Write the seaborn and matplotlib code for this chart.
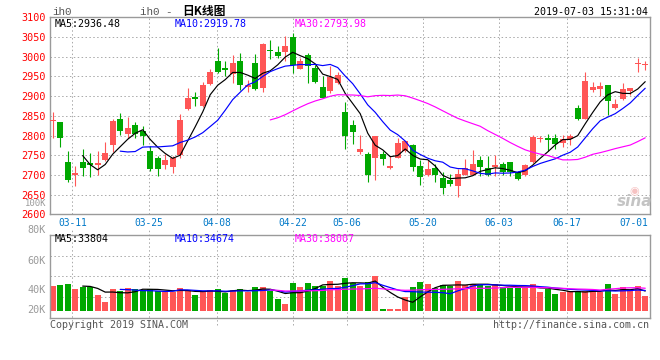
import matplotlib
matplotlib.use('Agg')
import matplotlib.pyplot as plt
import seaborn as sns
import pandas as pd
import numpy as np

FIG_W, FIG_H = 660, 360
RED = '#ff5656'
GREEN = '#00a800'
GRID = '#a8a8a8'
FRAME = '#9a9a9a'

# trading days shown (IH0 daily, 2019-03-06 .. 2019-07-02)
HOLIDAYS = ['2019-04-05', '2019-05-01', '2019-05-02', '2019-05-03', '2019-06-07']
DATES = [d for d in pd.bdate_range('2019-03-06', '2019-07-02')
         if d.strftime('%Y-%m-%d') not in HOLIDAYS]

OPEN = [2837, 2834, 2734, 2699, 2734, 2729, 2725, 2738, 2777, 2841,
        2805, 2827, 2812, 2760, 2743, 2724, 2719, 2750, 2866, 2898,
        2876, 2931, 2990, 2971, 2956, 2988, 2924, 2984, 2920, 3018,
        3013, 3011, 3050, 2969, 3005, 2971, 2922, 2913, 2934, 2859,
        2826, 2758, 2754, 2742, 2752, 2719, 2743, 2760, 2775, 2722,
        2701, 2717, 2691, 2688, 2673, 2701, 2701, 2737, 2717, 2719,
        2728, 2732, 2707, 2701, 2732, 2790, 2793, 2793, 2781, 2790,
        2869, 2843, 2915, 2917, 2928, 2869, 2892, 2913, 2981, 2979]
HIGH = [2860, 2834, 2760, 2722, 2766, 2755, 2760, 2783, 2841, 2856,
        2847, 2834, 2823, 2773, 2749, 2752, 2748, 2854, 2921, 2911,
        2937, 2969, 3022, 2988, 3005, 3009, 2941, 3007, 3036, 3043,
        3026, 3053, 3060, 2996, 3009, 2979, 2950, 2977, 2962, 2884,
        2840, 2802, 2758, 2800, 2760, 2747, 2794, 2785, 2779, 2739,
        2737, 2728, 2708, 2702, 2714, 2741, 2762, 2749, 2747, 2751,
        2732, 2734, 2711, 2728, 2802, 2800, 2805, 2805, 2802, 2805,
        2877, 2962, 2937, 2937, 2928, 2892, 2932, 2920, 2996, 2988]
LOW = [2794, 2772, 2683, 2673, 2698, 2694, 2700, 2736, 2757, 2802,
       2794, 2794, 2775, 2711, 2697, 2714, 2706, 2743, 2864, 2875,
       2873, 2928, 2958, 2950, 2932, 2915, 2911, 2915, 2911, 2994,
       2996, 2988, 2958, 2969, 2934, 2934, 2894, 2909, 2931, 2765,
       2779, 2754, 2681, 2688, 2726, 2715, 2743, 2758, 2709, 2675,
       2696, 2683, 2651, 2671, 2643, 2700, 2700, 2698, 2698, 2696,
       2701, 2698, 2687, 2696, 2730, 2783, 2760, 2766, 2772, 2777,
       2840, 2841, 2911, 2900, 2853, 2868, 2890, 2903, 2960, 2967]
CLOSE = [2840, 2794, 2688, 2706, 2717, 2725, 2729, 2755, 2837, 2812,
         2819, 2805, 2800, 2714, 2714, 2739, 2743, 2840, 2896, 2893,
         2927, 2962, 2960, 2967, 2984, 2927, 2928, 2918, 3033, 3015,
         3003, 3026, 2979, 2990, 2977, 2937, 2896, 2948, 2954, 2799,
         2809, 2767, 2701, 2800, 2741, 2722, 2781, 2785, 2719, 2694,
         2714, 2701, 2666, 2677, 2702, 2717, 2728, 2721, 2700, 2724,
         2707, 2707, 2690, 2724, 2796, 2794, 2788, 2778, 2792, 2799,
         2841, 2939, 2922, 2926, 2888, 2881, 2918, 2920, 2983, 2981]
# volume, thousand lots
VOLUME = [42.9, 44.6, 46.3, 37.2, 40.0, 40.0, 27.4, 14.9, 37.7, 34.3,
          38.9, 37.2, 36.0, 37.2, 33.2, 33.2, 31.4, 38.9, 36.0, 26.3,
          31.4, 36.0, 37.2, 30.3, 36.0, 37.2, 31.4, 40.6, 40.6, 34.3,
          20.6, 11.4, 47.5, 40.6, 47.5, 42.9, 42.9, 51.5, 41.7, 56.0,
          47.5, 41.7, 49.2, 60.0, 2.9, 2.9, 2.9, 22.9, 40.6, 49.2,
          45.7, 38.9, 43.4, 41.7, 51.5, 44.6, 45.7, 43.4, 41.7, 45.7,
          40.0, 38.9, 38.9, 40.0, 45.7, 32.0, 37.2, 28.6, 32.0, 33.2,
          33.2, 33.2, 34.3, 32.0, 45.7, 28.6, 40.0, 33.2, 41.7, 25.2]

TICK_LABELS = ['03-11', '03-25', '04-08', '04-22', '05-06', '05-20', '06-03', '06-17', '07-01']
TICK_POS = [2.61, 12.8, 21.87, 32.04, 39.24, 49.33, 59.51, 68.53, 77.5]
PRICE_TICKS = list(range(2600, 3101, 50))
VOL_LABELS = ['100K', '80K', '60K', '40K', '20K']
VOL_LABEL_Y = [204, 230, 261, 290, 310]

PRICE_MA_TEXT = ['MA5:2936.48', 'MA10:2919.78', 'MA30:2793.98']
VOL_MA_TEXT = ['MA5:33804', 'MA10:34674', 'MA30:38007']
MA_COLORS = ['black', '#0000ff', '#ff00ff']

df = pd.DataFrame({'date': DATES, 'open': OPEN, 'high': HIGH, 'low': LOW,
                   'close': CLOSE, 'volume': VOLUME})
df['i'] = np.arange(len(df))
df['dir'] = np.where(df['close'] >= df['open'], 'up', 'down')
for n in (5, 10, 30):
    df[f'ma{n}'] = df['close'].rolling(n).mean()
    df[f'vma{n}'] = df['volume'].rolling(n).mean()

sns.set_theme(style='white')
plt.rcParams['font.family'] = ['DejaVu Sans Mono', 'Noto Sans CJK SC']


def box(l, t, r, b):
    return [l / FIG_W, 1 - b / FIG_H, (r - l) / FIG_W, (b - t) / FIG_H]


def px(x, y):
    return x / FIG_W, 1 - y / FIG_H


fig = plt.figure(figsize=(6.6, 3.6), dpi=100)
ax = fig.add_axes(box(50, 17.3, 649.5, 214.3))
axv = fig.add_axes(box(50, 234.7, 649.5, 318))
XLIM = (-0.36, 79.57)

# ---- price panel
for y in PRICE_TICKS[1:-1]:
    ax.axhline(y, color=GRID, lw=0.7, ls=(0, (1.5, 2.5)), zorder=0)
for x in TICK_POS[:-1]:
    ax.axvline(x, color=GRID, lw=0.7, ls=(0, (1.5, 2.5)), zorder=0)

colors = np.where(df['dir'] == 'up', RED, GREEN)
ax.vlines(df['i'], df['low'], df['high'], colors=colors, lw=0.8, zorder=2)
body_lo = np.minimum(df['open'], df['close'])
body_raw = (df['close'] - df['open']).abs()
body_h = np.maximum(body_raw, 3.5)
ax.bar(df['i'], body_h, bottom=body_lo - (body_h - body_raw) / 2, width=0.78,
       color=colors, linewidth=0, zorder=3)

for n, c in zip((5, 10, 30), MA_COLORS):
    sns.lineplot(data=df, x='i', y=f'ma{n}', color=c, lw=0.85, ax=ax,
                 errorbar=None, zorder=4)

ax.set_xlim(*XLIM)
ax.set_ylim(2600, 3100)
ax.set_yticks(PRICE_TICKS)
ax.set_yticklabels([str(v) for v in PRICE_TICKS])
ax.set_xticks(TICK_POS)
ax.set_xticklabels(TICK_LABELS)
ax.tick_params(axis='y', length=0, pad=3, labelcolor='#ff0000', labelsize=7.3)
ax.tick_params(axis='x', length=0, pad=2.5, labelcolor='#0078c8', labelsize=6.9)
ax.set_xlabel('')
ax.set_ylabel('')
for s in ax.spines.values():
    s.set_color(FRAME)
    s.set_linewidth(1.0)

# ---- volume panel
vlo, vhi = -12.5, 130.3
for f in (0.25, 0.5, 0.75):
    axv.axhline(vlo + f * (vhi - vlo), color=GRID, lw=0.7, ls=(0, (1.5, 2.5)), zorder=0)
for x in TICK_POS[:-1]:
    axv.axvline(x, ymin=-0.085, ymax=1.08, color=GRID, lw=0.7, ls=(0, (1.5, 2.5)),
                zorder=0, clip_on=False)

sns.barplot(data=df, x='i', y='volume', hue='dir', palette={'up': RED, 'down': GREEN},
            native_scale=True, dodge=False, width=0.85, legend=False, saturation=1,
            linewidth=0, errorbar=None, ax=axv, zorder=2)
for n, c in zip((5, 10, 30), MA_COLORS):
    sns.lineplot(data=df, x='i', y=f'vma{n}', color=c, lw=0.9, ax=axv,
                 errorbar=None, zorder=4)

axv.set_xlim(*XLIM)
axv.set_ylim(vlo, vhi)
axv.set_xticks([])
axv.set_yticks([])
axv.set_xlabel('')
axv.set_ylabel('')
for s in axv.spines.values():
    s.set_color(FRAME)
    s.set_linewidth(1.0)

# ---- texts
for lab, y in zip(VOL_LABELS, VOL_LABEL_Y):
    fig.text(*px(46, y), lab, ha='right', va='center', color='#9a9a9a',
             fontsize=6.4 if lab == '100K' else 7.3)

for txt, x, c in zip(PRICE_MA_TEXT, (55, 174.5, 295), MA_COLORS):
    fig.text(*px(x, 24), txt, ha='left', va='center', color=c, fontsize=7.2)
for txt, x, c in zip(VOL_MA_TEXT, (55, 175, 295), MA_COLORS):
    fig.text(*px(x, 239), txt, ha='left', va='center', color=c, fontsize=7.2)

fig.text(*px(52, 12), 'ih0', ha='left', va='center', color='#555555', fontsize=7.8,
         family=['Liberation Mono', 'DejaVu Sans Mono'])
fig.text(*px(140.5, 12), 'ih0 -', ha='left', va='center', color='#555555', fontsize=7.8,
         family=['Liberation Mono', 'DejaVu Sans Mono'])
fig.text(*px(182.5, 12), '日K线图', ha='left', va='center', color='black', fontsize=8.5,
         fontweight='bold', family=['Noto Sans CJK SC', 'DejaVu Sans'])
fig.text(*px(648.5, 12), '2019-07-03 15:31:04', ha='right', va='center', color='black',
         fontsize=7.2)

fig.text(*px(50, 324.5), 'Copyright 2019 SINA.COM', ha='left', va='center',
         color='#555555', fontsize=7.2)
fig.text(*px(648.5, 324.5), 'http://finance.sina.com.cn', ha='right', va='center',
         color='#555555', fontsize=7.2)

# watermark
fig.text(*px(634, 191), '◉', ha='center', va='center', color='#f6c2c2', fontsize=8,
         family='DejaVu Sans')
fig.text(*px(635, 202), 'sina', ha='center', va='center', color='#c4c4c4', fontsize=11,
         fontweight='bold', style='italic', family='DejaVu Sans')

fig.savefig('out.png', dpi=100)
